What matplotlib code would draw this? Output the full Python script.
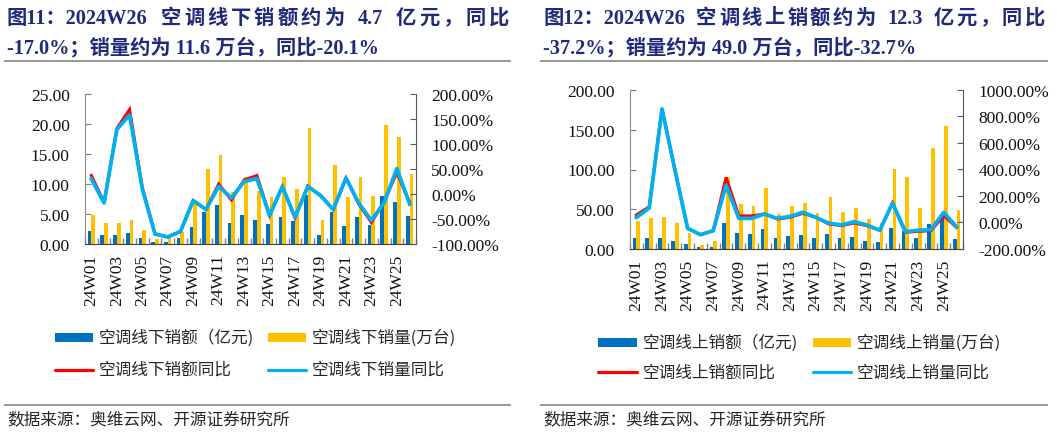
import matplotlib
matplotlib.use('Agg')
import matplotlib.pyplot as plt
from matplotlib.patches import Rectangle
from matplotlib.lines import Line2D
from matplotlib.ticker import FuncFormatter
import numpy as np

# ---------------- data ----------------
weeks = ["24W01", "24W02", "24W03", "24W04", "24W05", "24W06", "24W07", "24W08",
         "24W09", "24W10", "24W11", "24W12", "24W13", "24W14", "24W15", "24W16",
         "24W17", "24W18", "24W19", "24W20", "24W21", "24W22", "24W23", "24W24",
         "24W25", "24W26"]

# offline (线下)
off_amt = [2.2, 1.5, 1.5, 1.8, 1.0, 0.33, 0.33, 1.05, 2.8, 5.4, 6.45, 3.45, 4.8,
           4.05, 3.3, 4.45, 3.8, 8.2, 1.55, 5.3, 3.05, 4.55, 3.2, 8.05, 7.05, 4.7]
off_vol = [4.9, 3.5, 3.45, 4.05, 2.3, 0.83, 1.1, 2.0, 6.8, 12.5, 14.8, 8.6, 11.1,
           8.9, 7.9, 11.1, 9.2, 19.3, 4.05, 13.2, 7.9, 11.1, 7.95, 19.8, 17.9, 11.6]
off_amt_yoy = [37, -17, 131, 169, 13, -80, -86, -75, -13, -31, 20, -12, 28,
               37, -43, 15, -47, 16, -3, -31, 32, -20, -57, -15, 43, -17.0]
off_vol_yoy = [30, -18, 129, 158, 10, -80, -86, -75, -13, -31, 15, -8, 25,
               31, -43, 15, -47, 15, -3, -31, 32, -18, -53, -17, 51, -20.1]

# online (线上)
on_amt = [13.4, 13.8, 13.4, 10.5, 6.3, 2.1, 2.9, 32.7, 19.7, 18.4, 25.2, 13.4, 16.4,
          18.0, 13.8, 18.9, 13.4, 14.7, 10.1, 8.8, 26.8, 23.0, 13.4, 31.4, 40.7, 12.3]
on_vol = [35.6, 39.4, 40.7, 33.1, 20.1, 5.5, 10.1, 91.0, 56.2, 54.1, 76.3, 44.0, 54.1,
          57.4, 45.3, 65.4, 46.1, 51.6, 37.3, 32.7, 100.6, 90.1, 51.6, 127.0, 155.1, 49.0]
on_amt_yoy = [57, 118, 857, 400, -44, -92, -62, 340, 50, 50, 64, 26, 39,
              69, 39, -11, -24, -4, -24, -59, 147, -74, -67, -62, 52, -37.2]
on_vol_yoy = [38, 109, 857, 400, -44, -92, -62, 282, 31, 31, 64, 31, 46,
              77, 39, -4, -19, 6, -19, -59, 147, -69, -59, -54, 77, -32.7]

left_title1 = ["图11：2024W26", " ", "空", "调", "线", "下", "销", "额", "约", "为", " ", "4.7",
               " ", "亿", "元", "，", "同", "比"]
left_title2 = "-17.0%；销量约为 11.6 万台，同比-20.1%"
right_title1 = ["图12：2024W26", " ", "空", "调", "线", "上", "销", "额", "约", "为", " ", "12.3",
                " ", "亿", "元", "，", "同", "比"]
right_title2 = "-37.2%；销量约为 49.0 万台，同比-32.7%"
left_legend = ["空调线下销额（亿元)", "空调线下销量(万台)", "空调线下销额同比", "空调线下销量同比"]
right_legend = ["空调线上销额（亿元)", "空调线上销量(万台)", "空调线上销额同比", "空调线上销量同比"]
source = "数据来源：奥维云网、开源证券研究所"

# ---------------- style ----------------
W, H = 1057, 435
DPI = 100
C_BLUE = '#0070C0'
C_YEL = '#FFC000'
C_RED = '#FF0000'
C_CYAN = '#00B0F0'
C_TITLE = '#1F2A7A'
SERIF = ['Liberation Serif', 'DejaVu Serif']
TITLE_FAM = ['Liberation Serif', 'Noto Sans CJK SC']
CJK = ['Noto Sans CJK SC', 'DejaVu Sans']

fig = plt.figure(figsize=(W / DPI, H / DPI), dpi=DPI)
fig.patch.set_facecolor('white')


def fx(px):
    return px / W


def fy(py):
    return 1 - py / H


def make_chart(rect_px, amt, vol, amt_yoy, vol_yoy, ylim, yticks, y2lim, y2ticks):
    x0, y0, x1, y1 = rect_px
    ax = fig.add_axes([fx(x0), fy(y1), (x1 - x0) / W, (y1 - y0) / H])
    x = np.arange(len(weeks))
    ax.bar(x - 0.145, amt, width=0.29, color=C_BLUE, zorder=2)
    ax.bar(x + 0.145, vol, width=0.29, color=C_YEL, zorder=2)
    ax.set_xlim(-0.5, len(weeks) - 0.5)
    ax.set_ylim(*ylim)
    ax.set_yticks(yticks)
    ax.yaxis.set_major_formatter(FuncFormatter(lambda v, p: f"{v:.2f}"))
    ax.set_xticks(np.arange(-0.5, len(weeks), 1.0))
    ax.set_xticklabels([])
    ax.set_xticks(x[::2], labels=weeks[::2], minor=True)
    ax.tick_params(axis='x', which='major', direction='in', length=4, color='#7F7F7F', width=1)
    ax.tick_params(axis='x', which='minor', length=0, pad=7, labelrotation=90,
                   labelsize=12.5, labelcolor='#111111')
    ax.tick_params(axis='y', direction='in', length=4, color='#7F7F7F', pad=11,
                   labelsize=12.5, labelcolor='#111111')
    for lab in ax.get_xticklabels(minor=True) + ax.get_yticklabels():
        lab.set_family(SERIF)
    ax.spines['top'].set_visible(False)
    ax.spines['right'].set_visible(False)
    ax.spines['left'].set_color('#8C8C8C')
    ax.spines['bottom'].set_color('#404040')

    ax2 = ax.twinx()
    ax2.plot(x, amt_yoy, color=C_RED, lw=2.2, solid_joinstyle='miter', zorder=3)
    ax2.plot(x, vol_yoy, color=C_CYAN, lw=2.7, solid_joinstyle='round', zorder=4)
    ax2.set_ylim(*y2lim)
    ax2.set_yticks(y2ticks)
    ax2.yaxis.set_major_formatter(FuncFormatter(lambda v, p: f"{v:.2f}%"))
    ax2.tick_params(axis='y', direction='in', length=4, color='#595959', pad=11,
                    labelsize=12.5, labelcolor='#111111')
    for lab in ax2.get_yticklabels():
        lab.set_family(SERIF)
    for s in ['top', 'left', 'bottom']:
        ax2.spines[s].set_visible(False)
    ax2.spines['right'].set_color('#595959')
    return ax, ax2


make_chart((85, 95, 416, 245), off_amt, off_vol, off_amt_yoy, off_vol_yoy,
           (0, 25), [0, 5, 10, 15, 20, 25], (-100, 200), [-100, -50, 0, 50, 100, 150, 200])
make_chart((630, 91, 963, 250), on_amt, on_vol, on_amt_yoy, on_vol_yoy,
           (0, 200), [0, 50, 100, 150, 200], (-200, 1000),
           [-200, 0, 200, 400, 600, 800, 1000])

# ---------------- titles (first line justified) ----------------
renderer = fig.canvas.get_renderer()
TFS = 14.6
SPACE_WEIGHT = 4.5


def justified(toks, x0, x1, ybase):
    items = []      # (text, width, weight of the gap before it)
    weight_next = 1.0
    for t in toks:
        if t == ' ':
            weight_next = SPACE_WEIGHT
            continue
        tt = fig.text(fx(x0), fy(ybase), t, family=TITLE_FAM, weight='bold',
                      fontsize=TFS, color=C_TITLE, ha='left', va='baseline')
        items.append([tt, tt.get_window_extent(renderer).width, weight_next])
        weight_next = 1.0
    items[0][2] = 0.0
    total = sum(it[1] for it in items)
    wsum = sum(it[2] for it in items)
    unit = (x1 - x0 - total) / wsum
    xc = x0
    for tt, w, g in items:
        xc += g * unit
        tt.set_x(fx(xc))
        xc += w


justified(left_title1, 7, 509, 23.5)
fig.text(fx(7), fy(53.5), left_title2, family=TITLE_FAM, weight='bold', fontsize=TFS,
         color=C_TITLE, ha='left', va='baseline')
justified(right_title1, 543, 1045, 23.5)
fig.text(fx(543), fy(53.5), right_title2, family=TITLE_FAM, weight='bold', fontsize=TFS,
         color=C_TITLE, ha='left', va='baseline')

# separators
for (xa, xb) in [(5, 510), (541, 1047)]:
    for yy in (62, 406):
        fig.add_artist(Line2D([fx(xa), fx(xb)], [fy(yy), fy(yy)], transform=fig.transFigure,
                              color='#8C8C8C', lw=1.3))

# ---------------- legends ----------------
LFS = 12


def legend(labels, xs, ys):
    (bx0, bx1), (yx0, yx1) = xs
    y1, y2 = ys
    fig.add_artist(Rectangle((fx(bx0), fy(y1 + 4.5)), (bx1 - bx0) / W, 9 / H,
                             transform=fig.transFigure, color=C_BLUE, lw=0))
    fig.add_artist(Rectangle((fx(yx0), fy(y1 + 4.5)), (yx1 - yx0) / W, 9 / H,
                             transform=fig.transFigure, color=C_YEL, lw=0))
    fig.add_artist(Line2D([fx(bx0), fx(bx1)], [fy(y2), fy(y2)], transform=fig.transFigure,
                          color=C_RED, lw=2.3, solid_capstyle='round'))
    fig.add_artist(Line2D([fx(yx0), fx(yx1)], [fy(y2), fy(y2)], transform=fig.transFigure,
                          color=C_CYAN, lw=2.3, solid_capstyle='round'))
    for lab, (px, py) in zip(labels, [(bx1 + 6, y1), (yx1 + 6, y1), (bx1 + 6, y2), (yx1 + 6, y2)]):
        fig.text(fx(px), fy(py), lab, family=CJK, fontsize=LFS, color='#262626',
                 ha='left', va='center')


legend(left_legend, [(55, 93), (268, 306)], (338, 370.5))
legend(right_legend, [(598, 637), (813, 851)], (343, 373))

# ---------------- source ----------------
fig.text(fx(7), fy(420), source, family=CJK, fontsize=12, color='#262626', ha='left', va='center')
fig.text(fx(543), fy(420), source, family=CJK, fontsize=12, color='#262626', ha='left', va='center')

fig.savefig('out.png', dpi=DPI, facecolor='white')
